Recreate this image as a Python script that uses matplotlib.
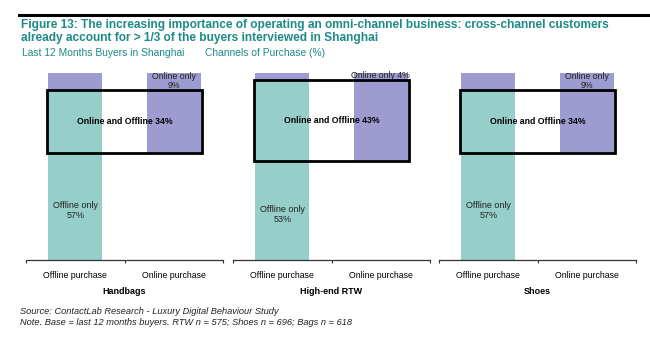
import matplotlib
matplotlib.use("Agg")
import matplotlib.pyplot as plt
from matplotlib.patches import Rectangle

plt.rcParams['font.family'] = ['Liberation Sans', 'DejaVu Sans']

# donnees (%)
panels = ['Handbags', 'High-end RTW', 'Shoes']
offline_only = [57, 53, 57]
both = [34, 43, 34]
online_only = [9, 4, 9]
categories = ['Offline purchase', 'Online purchase']

teal = '#96CFC9'
purple = '#9D9BCF'
title_col = '#1C8A87'

W, H = 650, 352
fig = plt.figure(figsize=(W / 100, H / 100), dpi=100)

# ligne noire en haut + titres
fig.add_artist(plt.Line2D([19 / W, 1.0], [1 - 15 / H, 1 - 15 / H], color='black', lw=2.2))
fig.text(21 / W, 1 - 25 / H, 'Figure 13: The increasing importance of operating an omni-channel business: cross-channel customers',
         color=title_col, fontsize=8.55, fontweight='bold', va='center')
fig.text(21 / W, 1 - 37.5 / H, 'already account for > 1/3 of the buyers interviewed in Shanghai',
         color=title_col, fontsize=8.55, fontweight='bold', va='center')
fig.text(22 / W, 1 - 53 / H, 'Last 12 Months Buyers in Shanghai',
         color=title_col, fontsize=7.4, va='center')
fig.text(205 / W, 1 - 53 / H, 'Channels of Purchase (%)',
         color=title_col, fontsize=7.4, va='center')

lefts = [26, 233, 439]
ax_w = 197
y_bot, y_top = 260, 72.7
bw = 0.55

for i, name in enumerate(panels):
    ax = fig.add_axes([lefts[i] / W, (H - y_bot) / H, ax_w / W, (y_bot - y_top) / H])
    off, bo, on = offline_only[i], both[i], online_only[i]

    # barre achat offline : offline only + both en teal, online only en violet
    ax.bar(0, off + bo, width=bw, color=teal, zorder=1)
    ax.bar(0, on, bottom=off + bo, width=bw, color=purple, zorder=1)
    # barre achat online : both + online only en violet
    ax.bar(1, bo + on, bottom=off, width=bw, color=purple, zorder=1)

    # cadre "Online and Offline"
    ax.add_patch(Rectangle((-0.29, off), 1.58, bo, fill=False, edgecolor='black', lw=2, zorder=3))
    ax.text(0.5, off + bo / 2, f'Online and Offline {bo}%', ha='center', va='center',
            fontsize=6.3, fontweight='bold', zorder=4)
    ax.text(0, off / 2 - 2, f'Offline only\n{off}%', ha='center', va='center', fontsize=6.5,
            color='#222222', linespacing=1.15)
    if on >= 6:
        ax.text(1, off + bo + on / 2, f'Online only\n{on}%', ha='center', va='center', fontsize=6.3,
                color='#222222', linespacing=1.0)
    else:
        ax.text(1, off + bo + on / 2 + 0.5, f'Online only {on}%', ha='center', va='center', fontsize=6.3,
                color='#222222')

    ax.set_xlim(-0.5, 1.5)
    ax.set_ylim(0, 100)
    for s in ['top', 'right', 'left']:
        ax.spines[s].set_visible(False)
    ax.spines['bottom'].set_color('#333333')
    ax.spines['bottom'].set_linewidth(0.9)
    ax.set_yticks([])
    ax.set_xticks([0, 1])
    ax.set_xticklabels(categories, fontsize=6.3)
    ax.tick_params(axis='x', which='major', length=0, pad=8)
    ax.set_xticks([-0.5, 0.5, 1.5], minor=True)
    ax.tick_params(axis='x', which='minor', length=2.5, width=0.8, color='#333333')
    ax.set_facecolor('none')

    fig.text((lefts[i] + ax_w / 2) / W, 1 - 292 / H, name, ha='center', va='center',
             fontsize=6.5, fontweight='bold')

fig.text(20 / W, 1 - 312 / H, 'Source: ContactLab Research - Luxury Digital Behaviour Study',
         fontsize=6.7, style='italic', va='center', color='#222222')
fig.text(20 / W, 1 - 322.5 / H, 'Note. Base = last 12 months buyers. RTW n = 575; Shoes n = 696; Bags n = 618',
         fontsize=6.7, style='italic', va='center', color='#222222')

fig.savefig('out.png', dpi=100)
